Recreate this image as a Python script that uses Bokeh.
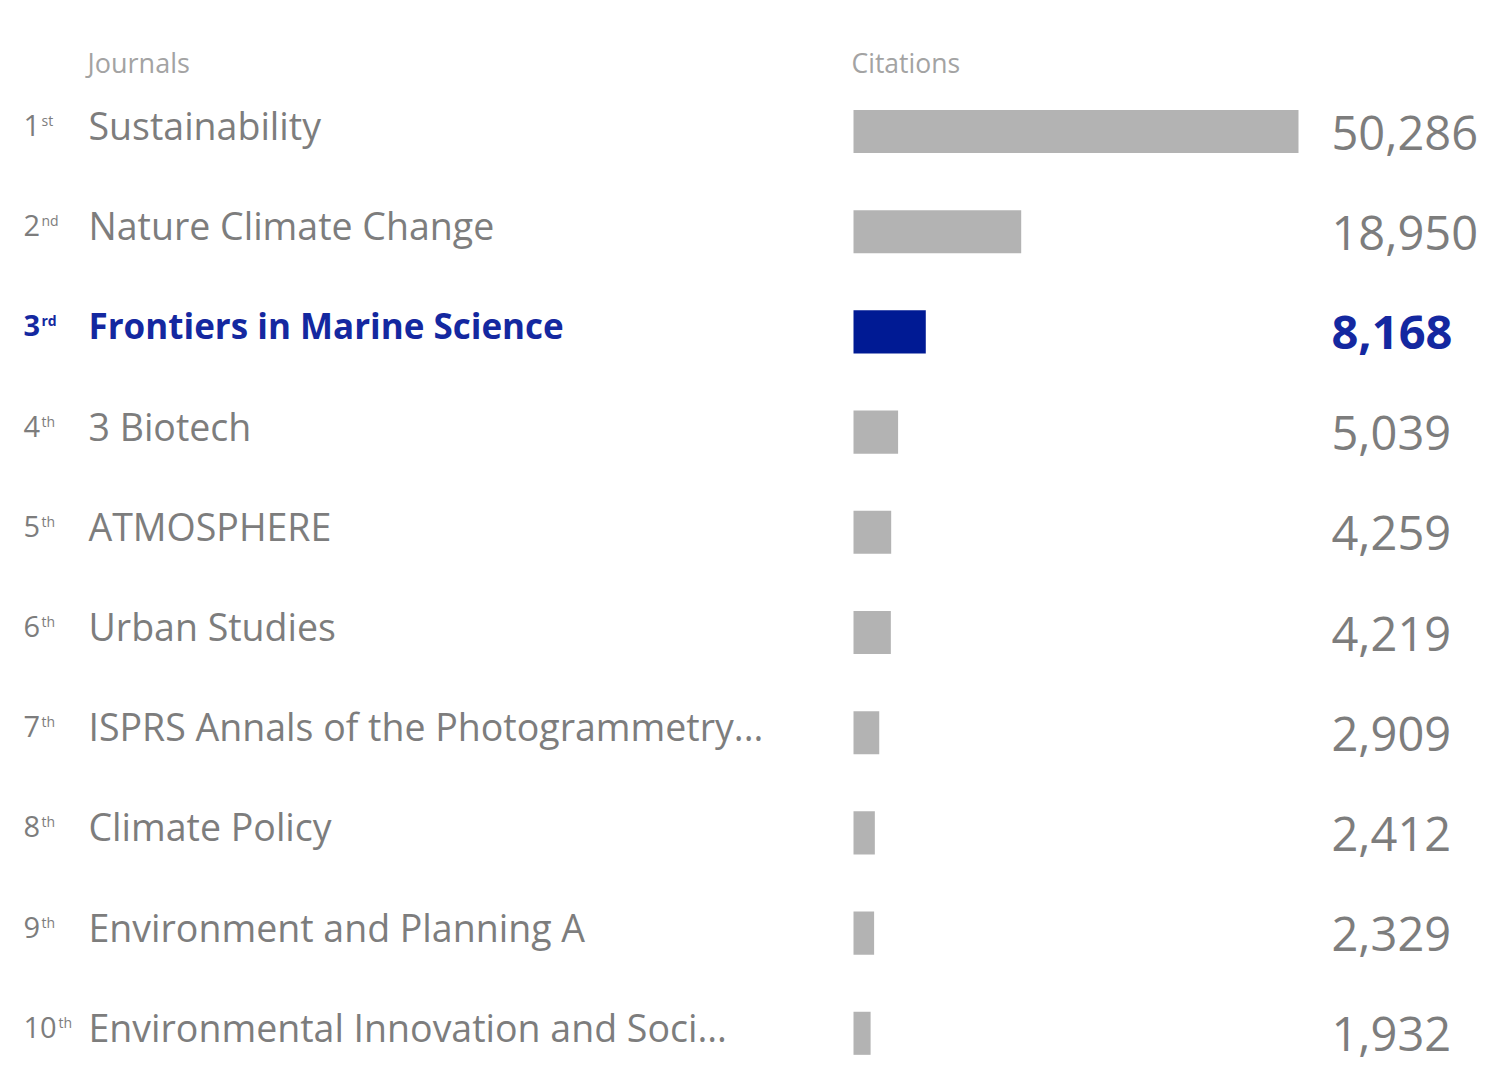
from bokeh.plotting import figure
from bokeh.models import Range1d, ColumnDataSource
from bokeh.core.properties import value
from bokeh.embed import file_html
from bokeh.resources import INLINE

# ---- data ----
journals = [
    "Sustainability",
    "Nature Climate Change",
    "Frontiers in Marine Science",
    "3 Biotech",
    "ATMOSPHERE",
    "Urban Studies",
    "ISPRS Annals of the Photogrammetry...",
    "Climate Policy",
    "Environment and Planning A",
    "Environmental Innovation and Soci...",
]
citations = [50286, 18950, 8168, 5039, 4259, 4219, 2909, 2412, 2329, 1932]
rank_numbers = ["1", "2", "3", "4", "5", "6", "7", "8", "9", "10"]
rank_suffixes = ["st", "nd", "rd", "th", "th", "th", "th", "th", "th", "th"]
highlight = "Frontiers in Marine Science"

# ---- styles ----
W, H = 1482, 1075
FONT = "Open Sans"
GRAY_TEXT = "#7d7d7d"
HEAD_TEXT = "#a3a3a3"
GRAY_BAR = "#b3b3b3"
BLUE = "#001a94"
BLUE_TEXT = "#1428a0"

bar_x0_px = 853.0
max_bar_px = 445.0
units_per_px = max(citations) / max_bar_px
row_px = 100.2
first_row_px = 131.0

rows = list(range(len(journals)))
is_hi = [j == highlight for j in journals]

p = figure(width=W, height=H, output_backend="svg", toolbar_location=None,
           x_range=Range1d(0, W),
           y_range=Range1d((H - first_row_px) / row_px, -first_row_px / row_px),
           min_border=0, outline_line_color=None)
p.extra_x_ranges = {"cit": Range1d(-bar_x0_px * units_per_px, (W - bar_x0_px) * units_per_px)}
p.axis.visible = False
p.grid.visible = False
p.background_fill_color = "white"
p.border_fill_color = "white"

src = ColumnDataSource(dict(
    row=rows,
    cit=citations,
    zero=[0] * len(rows),
    name=journals,
    num=rank_numbers,
    suf=rank_suffixes,
    label=[f"{c:,}" for c in citations],
    bar_color=[BLUE if h else GRAY_BAR for h in is_hi],
    text_color=[BLUE_TEXT if h else GRAY_TEXT for h in is_hi],
    weight=["bold" if h else "normal" for h in is_hi],
    name_size=["35px" if h else "37.5px" for h in is_hi],
    name_x=[88] * len(rows),
    rank_x=[23] * len(rows),
    suf_x=[23 + 17 * len(n) + 1 for n in rank_numbers],
    val_x=[1331] * len(rows),
))

# bars
p.hbar(y="row", left="zero", right="cit", height=0.43, fill_color="bar_color",
       line_color=None, source=src, x_range_name="cit")

# rank numbers
p.text(x="rank_x", y="row", text="num", source=src, text_font=value(FONT),
       text_font_size="29px", text_color="text_color", text_font_style="weight",
       text_baseline="middle", text_align="left", y_offset=-6)
# rank suffix (superscript)
p.text(x="suf_x", y="row", text="suf", source=src, text_font=value(FONT),
       text_font_size="14px", text_color="text_color", text_font_style="weight",
       text_baseline="middle", text_align="left", y_offset=-11)
# journal names
p.text(x="name_x", y="row", text="name", source=src, text_font=value(FONT),
       text_font_size="name_size", text_color="text_color", text_font_style="weight",
       text_baseline="middle", text_align="left", y_offset=-6)
# values
p.text(x="val_x", y="row", text="label", source=src, text_font=value(FONT),
       text_font_size="47px", text_color="text_color", text_font_style="weight",
       text_baseline="middle", text_align="left", y_offset=1)

# headers
hdr_y = (62 - first_row_px) / row_px
p.text(x=[87], y=[hdr_y], text=["Journals"], text_font=value(FONT),
       text_font_size="27px", text_color=HEAD_TEXT, text_baseline="middle")
p.text(x=[851], y=[hdr_y], text=["Citations"], text_font=value(FONT),
       text_font_size="26.5px", text_color=HEAD_TEXT, text_baseline="middle")

open("out.html", "w").write(file_html(p, INLINE))
